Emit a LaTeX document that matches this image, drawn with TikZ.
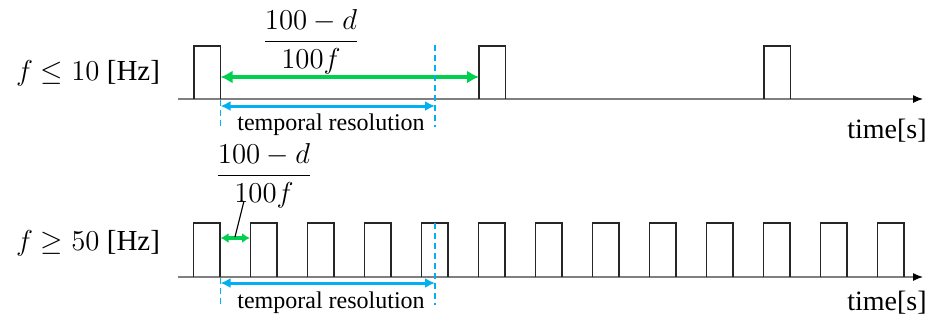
\documentclass[tikz,border=0pt]{standalone}
\usepackage{amsmath}
\usepackage{xcolor}
\usepackage{fontspec}
\setmainfont{Liberation Serif}
\usepackage{tikz}
\usetikzlibrary{arrows.meta,positioning}

\definecolor{perGreen}{RGB}{0,208,80}
\definecolor{resBlue}{RGB}{0,176,240}

\tikzset{
  pulse/.style = {draw=black!85, line width=0.75pt},
  timeaxis/.style = {draw=gray, line width=0.6pt, -{Latex[length=5pt,width=4pt,color=black]}},
  period/.style = {draw=perGreen, line width=2pt, {Latex[length=6pt,width=6.5pt]}-{Latex[length=6pt,width=6.5pt]}},
  resol/.style = {draw=resBlue, line width=1.5pt, {Latex[length=5pt,width=5pt]}-{Latex[length=5pt,width=5pt]}},
  guide/.style = {draw=resBlue, line width=0.6pt, dash pattern=on 3pt off 2pt},
  freqlabel/.style = {font=\fontsize{14.5}{17}\selectfont},
  fraclabel/.style = {font=\fontsize{13.5}{16}\selectfont, inner sep=0pt},
  reslabel/.style = {font=\fontsize{12}{14}\selectfont, inner sep=0pt},
  timelabel/.style = {font=\fontsize{14}{16}\selectfont, inner sep=0pt, anchor=east},
}

\begin{document}
\begin{tikzpicture}[x=0.5pt, y=-0.5pt]
  \useasboundingbox (0,0) rectangle (935,322);

  % f <= 10 Hz
  \coordinate (a1) at (178,99);
  \coordinate (a1e) at (923,99);
  \draw[timeaxis] (a1) -- (a1e);
  \foreach \x in {194,479,764}
    \draw[pulse] (\x,99) -- (\x,46) -- ++(26.5,0) -- ++(0,53);

  \node[freqlabel] (f1) at (88,73) {$f \leq 10$ [Hz]};
  \node[timelabel] (t1) at (927,131) {time[s]};

  \coordinate (g1a) at (220.5,77);
  \coordinate (g1b) at (479,77);
  \draw[period] (g1a) -- (g1b);
  \node[fraclabel] (fr1) at (311,42) {$\dfrac{100-d}{100f}$};

  \coordinate (d1a) at (220.5,100);
  \coordinate (d1b) at (220.5,128);
  \coordinate (d1c) at (435,45);
  \coordinate (d1d) at (435,127);
  \draw[guide] (d1a) -- (d1b);
  \draw[guide] (d1c) -- (d1d);
  \coordinate (b1a) at (220.5,106);
  \coordinate (b1b) at (435,106);
  \draw[resol] (b1a) -- (b1b);
  \node[reslabel] (r1) at (331,125) {temporal resolution};

  % f >= 50 Hz
  \coordinate (a2) at (178,277);
  \coordinate (a2e) at (923,277);
  \draw[timeaxis] (a2) -- (a2e);
  \foreach \k in {0,...,12}
    \draw[pulse] (193.7+57*\k,277) -- (193.7+57*\k,223) -- ++(26.5,0) -- ++(0,54);

  \node[freqlabel] (f2) at (88,243) {$f \geq 50$ [Hz]};
  \node[timelabel] (t2) at (927,303) {time[s]};

  \coordinate (g2a) at (220.5,238);
  \coordinate (g2b) at (250,238);
  \draw[period, line width=1.6pt, {Latex[length=4pt,width=5pt]}-{Latex[length=4pt,width=5pt]}] (g2a) -- (g2b);
  \node[fraclabel] (fr2) at (264,176) {$\dfrac{100-d}{100f}$};
  \coordinate (lead) at (244,201);
  \coordinate (g2m) at (235,237);
  \draw[line width=0.6pt] (lead) -- (g2m);

  \coordinate (d2a) at (220.5,278);
  \coordinate (d2b) at (220.5,306);
  \coordinate (d2c) at (435,223);
  \coordinate (d2d) at (435,305);
  \draw[guide] (d2a) -- (d2b);
  \draw[guide] (d2c) -- (d2d);
  \coordinate (b2a) at (220.5,283);
  \coordinate (b2b) at (435,283);
  \draw[resol] (b2a) -- (b2b);
  \node[reslabel] (r2) at (331,303) {temporal resolution};
\end{tikzpicture}
\end{document}
